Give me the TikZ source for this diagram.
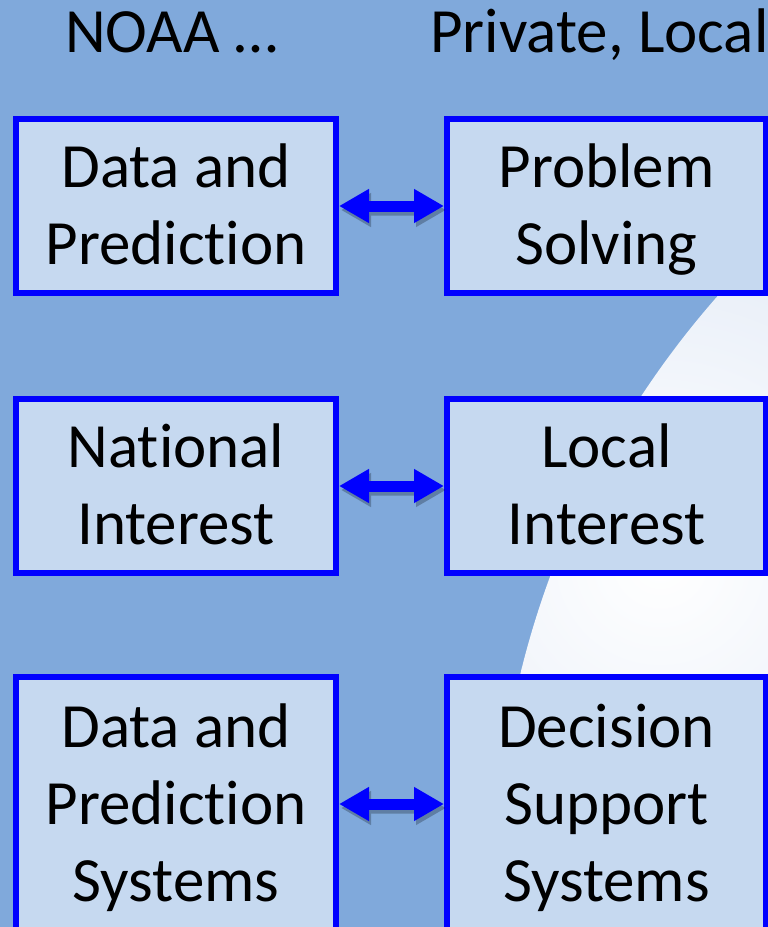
\documentclass[tikz,border=0pt]{standalone}
\usepackage{fontspec}
\setmainfont{Carlito}[Ligatures=NoCommon]
\usetikzlibrary{arrows.meta}
\definecolor{bgblue}{RGB}{128,169,219}
\definecolor{boxfill}{RGB}{198,217,240}
\definecolor{boxline}{RGB}{0,0,255}
\definecolor{glow}{RGB}{196,212,237}
\newcommand\hstrut{\rule{0pt}{60pt}}
\newcommand\dstrut{\rule[-20pt]{0pt}{20pt}}
\newcommand\nolig{\kern0pt\relax}
\begin{document}
\begin{tikzpicture}[x=1pt,y=-1pt,
  box/.style={draw=boxline, fill=boxfill, line width=6pt, minimum width=320pt,
    minimum height=174pt, inner sep=0pt, align=center,
    font=\fontsize{63}{77}\selectfont, text=black},
  rbox/.style={box, minimum width=319pt},
  head/.style={font=\fontsize{63}{77}\selectfont, anchor=base west, inner sep=0pt, text=black},
  link/.style={draw=boxline, line width=11pt, {Triangle[length=30pt,width=32pt]}-{Triangle[length=30pt,width=32pt]}},
  linkshadow/.style={draw=black, line width=11pt, {Triangle[length=30pt,width=32pt]}-{Triangle[length=30pt,width=32pt]}}]
\useasboundingbox (0,0) rectangle (768,927);
\fill[bgblue] (0,0) rectangle (768,927);
\begin{scope}
  \clip (1388,886) circle (893pt);
  \shade[inner color=white, outer color=glow] (660,560) circle (820pt);
\end{scope}

\node[head] (noaa) at (65,52) {NOAA …};
\node[head] (priv) at (430,52) {Private, Local};

\node[box] (dp) at (176,206) {\hstrut Data and\\Predict\nolig ion\dstrut};
\node[rbox] (ps) at (606.5,206) {\hstrut Problem\\Solving\dstrut};
\node[box] (ni) at (176,486) {\hstrut Nat\nolig ional\\Interest\dstrut};
\node[rbox] (li) at (606.5,486) {\hstrut Local\\Interest\dstrut};
\node[box, minimum height=254pt] (dps) at (176,804) {\hstrut Data and\\Predict\nolig ion\\Systems\dstrut};
\node[rbox, minimum height=254pt] (dss) at (606.5,804) {\hstrut Decision\\Support\\Systems\dstrut};

\begin{scope}[transparency group, opacity=0.25]
  \draw[linkshadow] ([shift={(2pt,-4pt)}]dp.east) -- ([shift={(2pt,-4pt)}]ps.west);
  \draw[linkshadow] ([shift={(2pt,-4pt)}]ni.east) -- ([shift={(2pt,-4pt)}]li.west);
  \draw[linkshadow] ([shift={(2pt,-4pt)}]dps.east) -- ([shift={(2pt,-4pt)}]dss.west);
\end{scope}
\draw[link] (dp.east) -- (ps.west);
\draw[link] (ni.east) -- (li.west);
\draw[link] (dps.east) -- (dss.west);
\end{tikzpicture}
\end{document}
